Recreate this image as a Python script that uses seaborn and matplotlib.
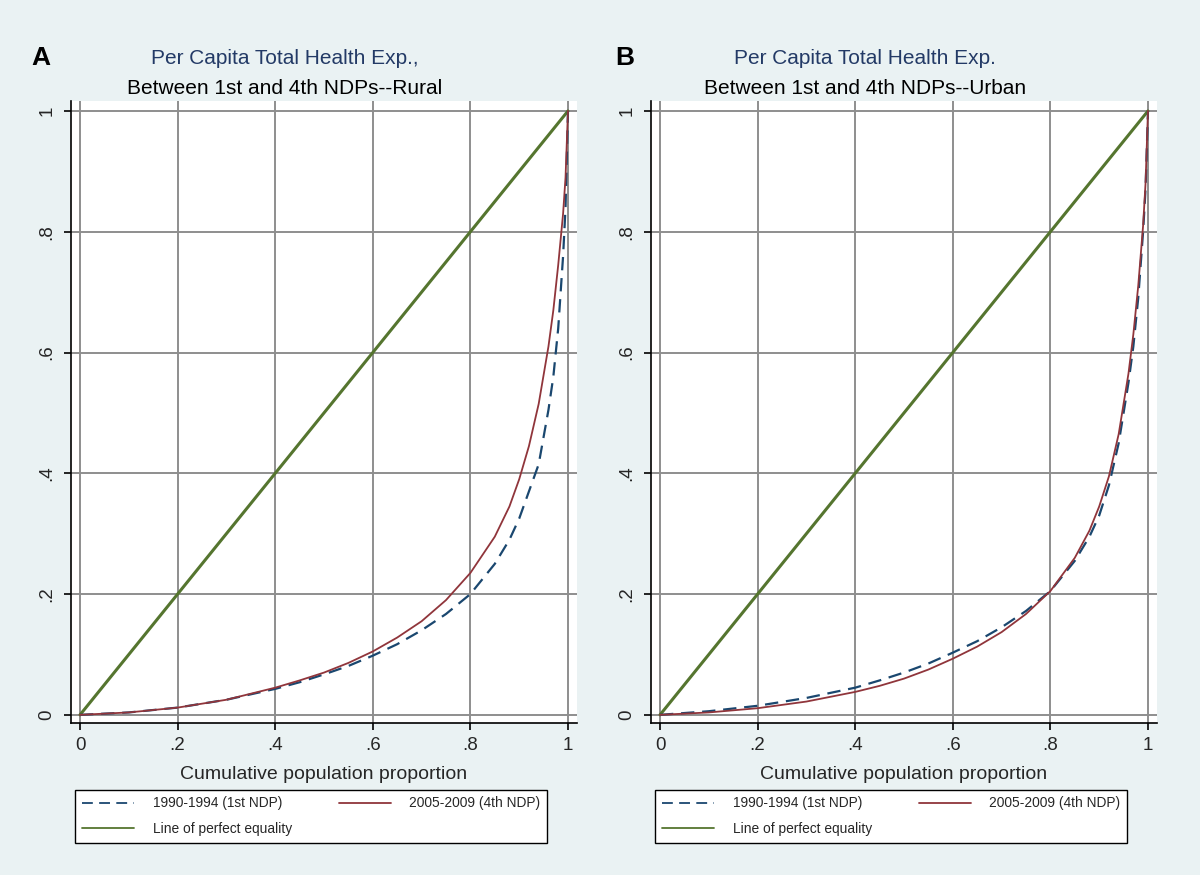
import pandas as pd
import seaborn as sns
import matplotlib.pyplot as plt
import numpy as np

# Cumulative population proportion (x) and cumulative share of expenditure (y)
pop = [0, 0.1, 0.2, 0.3, 0.4, 0.45, 0.5, 0.55, 0.6, 0.65, 0.7, 0.75, 0.8,
       0.85, 0.88, 0.9, 0.92, 0.94, 0.96, 0.97, 0.98, 0.99, 0.995, 1.0]

rural_1st = [0, .004, .012, .025, .043, .054, .067, .081, .098, .117, .14, .167, .20,
             .25, .29, .325, .37, .415, .505, .56, .64, .76, .84, 1.0]
rural_4th = [0, .004, .012, .025, .045, .057, .07, .086, .105, .128, .155, .19, .235,
             .295, .345, .39, .445, .515, .61, .67, .745, .83, .89, 1.0]
urban_1st = [0, .006, .015, .028, .045, .057, .07, .085, .103, .122, .145, .172, .205,
             .255, .295, .33, .38, .45, .55, .61, .69, .80, .87, 1.0]
urban_4th = [0, .004, .011, .022, .038, .048, .06, .075, .093, .113, .137, .167, .205,
             .26, .305, .345, .395, .465, .565, .63, .71, .81, .88, 1.0]

equality = [0, 1]

ticks = [0, 0.2, 0.4, 0.6, 0.8, 1.0]
tick_labels = ["0", ".2", ".4", ".6", ".8", "1"]

labels = ["1990-1994 (1st NDP)", "2005-2009 (4th NDP)", "Line of perfect equality"]
panels = ["A", "B"]
title1 = ["Per Capita Total Health Exp.,", "Per Capita Total Health Exp."]
title2 = ["Between 1st and 4th NDPs--Rural", "Between 1st and 4th NDPs--Urban"]

BG = "#eaf2f3"
BLUE = "#1a476f"
RED = "#90353b"
GREEN = "#55752f"

sns.set_theme(style="white")
plt.rcParams['font.family'] = ['Liberation Sans', 'DejaVu Sans']

fig = plt.figure(figsize=(12, 8.75), dpi=100, facecolor=BG)

ax_pos = [[71 / 1200, 1 - 723 / 875, 506 / 1200, 622 / 875],
          [651 / 1200, 1 - 723 / 875, 506 / 1200, 622 / 875]]
title_x = [285 / 1200, 865 / 1200]
letter_x = [41 / 1200, 625 / 1200]

data = [(rural_1st, rural_4th), (urban_1st, urban_4th)]

for i in range(2):
    ax = fig.add_axes(ax_pos[i])
    ax.set_facecolor("white")
    first, fourth = data[i]

    sns.lineplot(x=pop, y=first, ax=ax, color=BLUE, linewidth=1.6,
                 label=labels[0], zorder=4)
    ax.lines[-1].set_dashes([6, 3.5])
    sns.lineplot(x=pop, y=fourth, ax=ax, color=RED, linewidth=1.3,
                 label=labels[1], zorder=5)
    sns.lineplot(x=equality, y=equality, ax=ax, color=GREEN, linewidth=2.2,
                 label=labels[2], zorder=3)

    ax.set_xlim(-0.0185, 1.0185)
    ax.set_ylim(-0.0135, 1.0165)
    ax.set_xticks(ticks)
    ax.set_xticklabels(tick_labels, fontsize=13.5)
    ax.set_yticks(ticks)
    ax.set_yticklabels(tick_labels, fontsize=13.5, rotation=90, va="center")
    ax.tick_params(axis="both", direction="out", length=5, width=1.2,
                   color="black", bottom=True, left=True)
    ax.tick_params(axis="x", pad=5)
    ax.tick_params(axis="y", pad=6)
    ax.grid(True, color="#8e8e8e", linewidth=1.4)
    ax.set_axisbelow(True)
    for s in ["top", "right"]:
        ax.spines[s].set_visible(False)
    for s in ["left", "bottom"]:
        ax.spines[s].set_color("black")
        ax.spines[s].set_linewidth(1.2)

    ax.set_xlabel("Cumulative population proportion", fontsize=14, labelpad=9)
    ax.set_ylabel("")

    handles, labs = ax.get_legend_handles_labels()
    order = [0, 2, 1]
    leg = ax.legend([handles[k] for k in order], [labs[k] for k in order],
                    ncol=2, loc="upper left", bbox_to_anchor=(0.008, -0.107),
                    fontsize=9.9, frameon=True, fancybox=False,
                    edgecolor="black", facecolor="white", framealpha=1,
                    handlelength=3.8, handletextpad=1.35, columnspacing=3.4,
                    borderpad=0.5, labelspacing=0.85, borderaxespad=0)
    leg.get_frame().set_linewidth(1.0)
    for ln in leg.get_lines():
        ln.set_linewidth(1.3)

    fig.text(title_x[i], 1 - 58 / 875, title1[i], ha="center", va="center",
             fontsize=15, color="#233a66")
    fig.text(title_x[i], 1 - 88 / 875, title2[i], ha="center", va="center",
             fontsize=15, color="black")
    fig.text(letter_x[i], 1 - 58 / 875, panels[i], ha="center", va="center",
             fontsize=19, fontweight="bold", color="black")

fig.savefig("out.png", dpi=100, facecolor=BG)
